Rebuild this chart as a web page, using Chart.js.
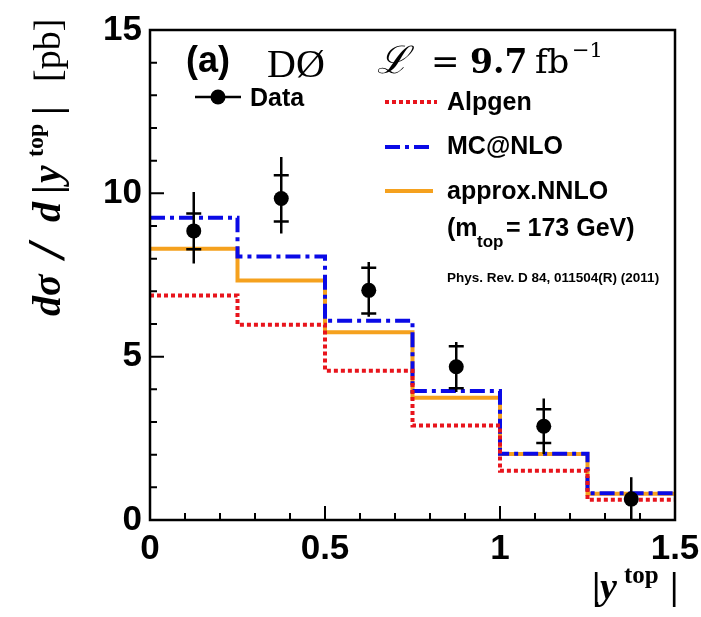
<!DOCTYPE html>
<html>
<head>
<meta charset="utf-8">
<script src="https://cdn.jsdelivr.net/npm/chart.js@4.4.1/dist/chart.umd.min.js"></script>
<style>
  html,body{margin:0;padding:0;background:#fff;}
  #wrap{width:701px;height:617px;}
</style>
</head>
<body>
<div id="wrap"><canvas id="c" width="701" height="617"></canvas></div>
<script>
// bins in |y_top|
const binEdges   = [0, 0.25, 0.5, 0.75, 1.0, 1.25, 1.5];
const binCenters = [0.125, 0.375, 0.625, 0.875, 1.125, 1.375];

// predictions per bin [pb]
const alpgen  = [6.87, 5.98, 4.57, 2.89, 1.51, 0.62];
const mcatnlo = [9.25, 8.07, 6.10, 3.95, 2.03, 0.82];
const nnlo    = [8.30, 7.33, 5.75, 3.74, 2.02, 0.80];

// measured points, stat and total error band edges
const dataVals = [8.85, 9.84, 7.03, 4.69, 2.87, 0.64];
const statHi   = [9.38, 10.55, 7.72, 5.32, 3.39, null];
const statLo   = [8.29, 9.14, 6.32, 4.03, 2.36, null];
const totHi    = [10.04, 11.11, 7.90, 5.45, 3.72, 1.31];
const totLo    = [7.85, 8.77, 6.22, 3.92, 2.02, 0.0];

const yTicks = [0, 5, 10, 15];
const xTicks = [0, 0.5, 1, 1.5];

const SANS  = '"Liberation Sans", Arial, sans-serif';
const SERIF = '"Liberation Serif", serif';
const MATH  = '"DejaVu Serif", serif';
const RED = '#e8141c', BLUE = '#0a0ae6', ORANGE = '#f5a11e';

// histogram outline: one point per left edge, plus the last right edge
const stepPts = vals => binEdges.map((x, i) => ({x, y: vals[Math.min(i, vals.length - 1)]}));

// text pieces at given offsets from (x0,y0)
function place(ctx, x0, y0, parts){
  for(const [t, font, dx, dy = 0] of parts){
    ctx.font = font;
    ctx.fillText(t, x0 + dx, y0 + dy);
  }
}

const errBars = {
  id: 'errBars',
  beforeDatasetDraw(chart, args){
    if(args.index !== 3) return;
    const {ctx, scales:{x, y}} = chart;
    ctx.save();
    ctx.strokeStyle = '#000';
    ctx.lineWidth = 2.5;
    binCenters.forEach((c, i) => {
      const px = x.getPixelForValue(c);
      ctx.beginPath();
      ctx.moveTo(px, y.getPixelForValue(totLo[i]));
      ctx.lineTo(px, y.getPixelForValue(totHi[i]));
      [statHi[i], statLo[i]].forEach(v => {
        if(v == null) return;
        const py = y.getPixelForValue(v);
        ctx.moveTo(px - 7.5, py);
        ctx.lineTo(px + 7.5, py);
      });
      ctx.stroke();
    });
    ctx.restore();
  }
};

const frame = {
  id: 'frame',
  afterDraw(chart){
    const {ctx, chartArea:a, scales:{x, y}} = chart;
    ctx.save();
    ctx.strokeStyle = '#000';
    ctx.lineWidth = 2.5;
    ctx.strokeRect(a.left, a.top, a.right - a.left, a.bottom - a.top);
    // inward ticks, ROOT style
    ctx.lineWidth = 2;
    ctx.beginPath();
    for(let v = 0; v <= 15; v++){
      const py = y.getPixelForValue(v);
      ctx.moveTo(a.left, py);
      ctx.lineTo(a.left + (v % 5 === 0 ? 14 : 7), py);
    }
    for(let k = 0; k <= 15; k++){
      const px = x.getPixelForValue(k / 10);
      ctx.moveTo(px, a.bottom);
      ctx.lineTo(px, a.bottom - (k % 5 === 0 ? 14 : 7));
    }
    ctx.stroke();

    // legend glyphs
    ctx.lineWidth = 2.5;
    ctx.beginPath(); ctx.moveTo(195, 97); ctx.lineTo(241, 97); ctx.stroke();
    ctx.fillStyle = '#000';
    ctx.beginPath(); ctx.arc(218, 97, 7.5, 0, Math.PI * 2); ctx.fill();
    ctx.lineWidth = 4;
    ctx.strokeStyle = RED; ctx.setLineDash([4, 3]);
    ctx.beginPath(); ctx.moveTo(385, 102); ctx.lineTo(437, 102); ctx.stroke();
    ctx.strokeStyle = BLUE; ctx.setLineDash([15, 5, 4, 5]);
    ctx.beginPath(); ctx.moveTo(385, 147); ctx.lineTo(433, 147); ctx.stroke();
    ctx.strokeStyle = ORANGE; ctx.setLineDash([]);
    ctx.beginPath(); ctx.moveTo(385, 191); ctx.lineTo(433, 191); ctx.stroke();

    // texts
    ctx.fillStyle = '#000';
    ctx.textBaseline = 'alphabetic';
    ctx.textAlign = 'left';
    place(ctx, 186, 72, [['(a)', `bold 36px ${SANS}`, 0]]);
    place(ctx, 267, 77, [['DØ', `40px ${SERIF}`, 0]]);
    place(ctx, 377, 73, [
      ['ℒ', `italic 38px ${MATH}`, 0],
      ['=', `34px ${MATH}`, 54],
      ['9.7', `bold 33px ${MATH}`, 93],
      ['fb', `34px ${MATH}`, 158],
      ['−1', `21px ${MATH}`, 195, -16]
    ]);
    place(ctx, 250, 106, [['Data', `bold 25px ${SANS}`, 0]]);
    place(ctx, 447, 110, [['Alpgen', `bold 25px ${SANS}`, 0]]);
    place(ctx, 447, 154, [['MC@NLO', `bold 25px ${SANS}`, 0]]);
    place(ctx, 447, 199, [['approx.NNLO', `bold 25px ${SANS}`, 0]]);
    place(ctx, 447, 236, [['(m', `bold 25px ${SANS}`, 0], ['top', `bold 17px ${SANS}`, 30, 11], ['= 173 GeV)', `bold 25px ${SANS}`, 59]]);
    place(ctx, 447, 282, [['Phys. Rev. D 84, 011504(R) (2011)', `bold 13.5px ${SANS}`, 0]]);

    // axis titles
    place(ctx, 592, 599, [
      ['|', `bold 38px ${SERIF}`, 0],
      ['y', `italic bold 38px ${SERIF}`, 8],
      ['top', `bold 25px ${SERIF}`, 32, -16],
      ['|', `bold 38px ${SERIF}`, 78]
    ]);
    ctx.translate(60, 320);
    ctx.rotate(-Math.PI / 2);
    place(ctx, 0, 0, [
      ['dσ', `italic bold 40px ${SERIF}`, 4],
      ['/', `italic bold 52px ${SERIF}`, 62, 4],
      ['d', `italic bold 40px ${SERIF}`, 98],
      ['|', `bold 40px ${SERIF}`, 126],
      ['y', `italic bold 40px ${SERIF}`, 137],
      ['top', `bold 24px ${SERIF}`, 163, -17],
      ['|', `bold 40px ${SERIF}`, 205],
      ['[pb]', `38px ${SERIF}`, 238]
    ]);
    ctx.restore();
  }
};

const stepDs = (label, vals, color, dash, order) => ({
  label, data: stepPts(vals), showLine: true, stepped: true,
  borderColor: color, borderWidth: 4, borderDash: dash, borderCapStyle: 'butt',
  pointRadius: 0, fill: false, order
});

new Chart(document.getElementById('c'), {
  type: 'scatter',
  data: {
    datasets: [
      stepDs('Alpgen', alpgen, RED, [4, 3], 1),
      stepDs('MC@NLO', mcatnlo, BLUE, [15, 5, 4, 5], 2),
      stepDs('approx.NNLO', nnlo, ORANGE, [], 3),
      {label: 'Data', data: binCenters.map((x, i) => ({x, y: dataVals[i]})),
       pointRadius: 7.5, pointBackgroundColor: '#000', pointBorderWidth: 0, order: 0}
    ]
  },
  options: {
    responsive: false, animation: false, devicePixelRatio: 1,
    layout: {padding: {top: 30, right: 26, left: 0, bottom: 0}},
    plugins: {legend: {display: false}, tooltip: {enabled: false}},
    scales: {
      x: {
        type: 'linear', min: 0, max: 1.5,
        afterBuildTicks: s => { s.ticks = xTicks.map(value => ({value})); },
        ticks: {color: '#000', font: {family: SANS, size: 35, weight: 'bold'}, padding: 8, maxRotation: 0, autoSkip: false,
                callback: v => String(v)},
        grid: {display: false, drawTicks: false}, border: {display: false},
        afterFit: s => { s.height = 97; s.paddingLeft = 0; s.paddingRight = 0; }
      },
      y: {
        type: 'linear', min: 0, max: 15,
        afterBuildTicks: s => { s.ticks = yTicks.map(value => ({value})); },
        ticks: {color: '#000', font: {family: SANS, size: 35, weight: 'bold'}, padding: 8, autoSkip: false},
        grid: {display: false, drawTicks: false}, border: {display: false},
        afterFit: s => { s.width = 150; s.paddingTop = 0; s.paddingBottom = 0; }
      }
    }
  },
  plugins: [errBars, frame]
});
</script>
</body>
</html>
